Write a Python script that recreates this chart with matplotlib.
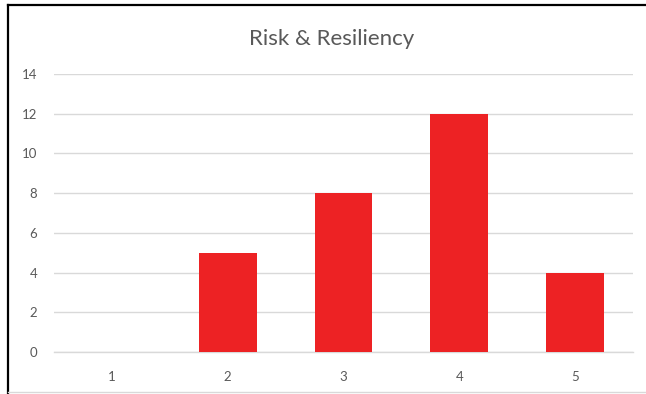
import matplotlib
matplotlib.use("Agg")
import matplotlib.pyplot as plt
from matplotlib.lines import Line2D

categories = ["1", "2", "3", "4", "5"]
values = [0, 5, 8, 12, 4]
yticks = [0, 2, 4, 6, 8, 10, 12, 14]

plt.rcParams['font.family'] = ['Lato', 'DejaVu Sans']

W, H = 646, 394
fig = plt.figure(figsize=(W / 100, H / 100), dpi=100)
fig.patch.set_facecolor("white")

ax = fig.add_axes([54 / W, 1 - 352 / H, (633 - 54) / W, (352 - 74) / H])
x = list(range(len(categories)))
ax.bar(x, values, width=0.5, color="#ED2224", zorder=3)
ax.set_xlim(-0.5, len(categories) - 0.5)
ax.set_ylim(0, 14)
ax.set_yticks(yticks)
ax.set_xticks(x)
ax.set_xticklabels(categories)
ax.grid(axis="y", color="#D9D9D9", linewidth=1.0, zorder=0)
ax.set_axisbelow(True)
for s in ["top", "right", "left"]:
    ax.spines[s].set_visible(False)
ax.spines["bottom"].set_color("#D9D9D9")
ax.spines["bottom"].set_linewidth(1.0)
ax.tick_params(axis="both", length=0, labelcolor="#595959", labelsize=9.5)
ax.tick_params(axis="y", pad=12)
ax.tick_params(axis="x", pad=14)

fig.text((249 + 415) / 2 / W, 1 - 39 / H, "Risk & Resiliency", ha="center", va="center",
         fontsize=16, color="#595959")

# frame lines
fig.add_artist(Line2D([8 / W, 8 / W], [0, 1 - 5 / H], color="black", linewidth=1.6, transform=fig.transFigure))
fig.add_artist(Line2D([8 / W, 1], [1 - 5 / H, 1 - 5 / H], color="black", linewidth=1.6, transform=fig.transFigure))
fig.add_artist(Line2D([8 / W, 1], [1 - 392 / H, 1 - 392 / H], color="#D9D9D9", linewidth=1.0, transform=fig.transFigure))

fig.savefig("out.png", dpi=100, facecolor="white")
